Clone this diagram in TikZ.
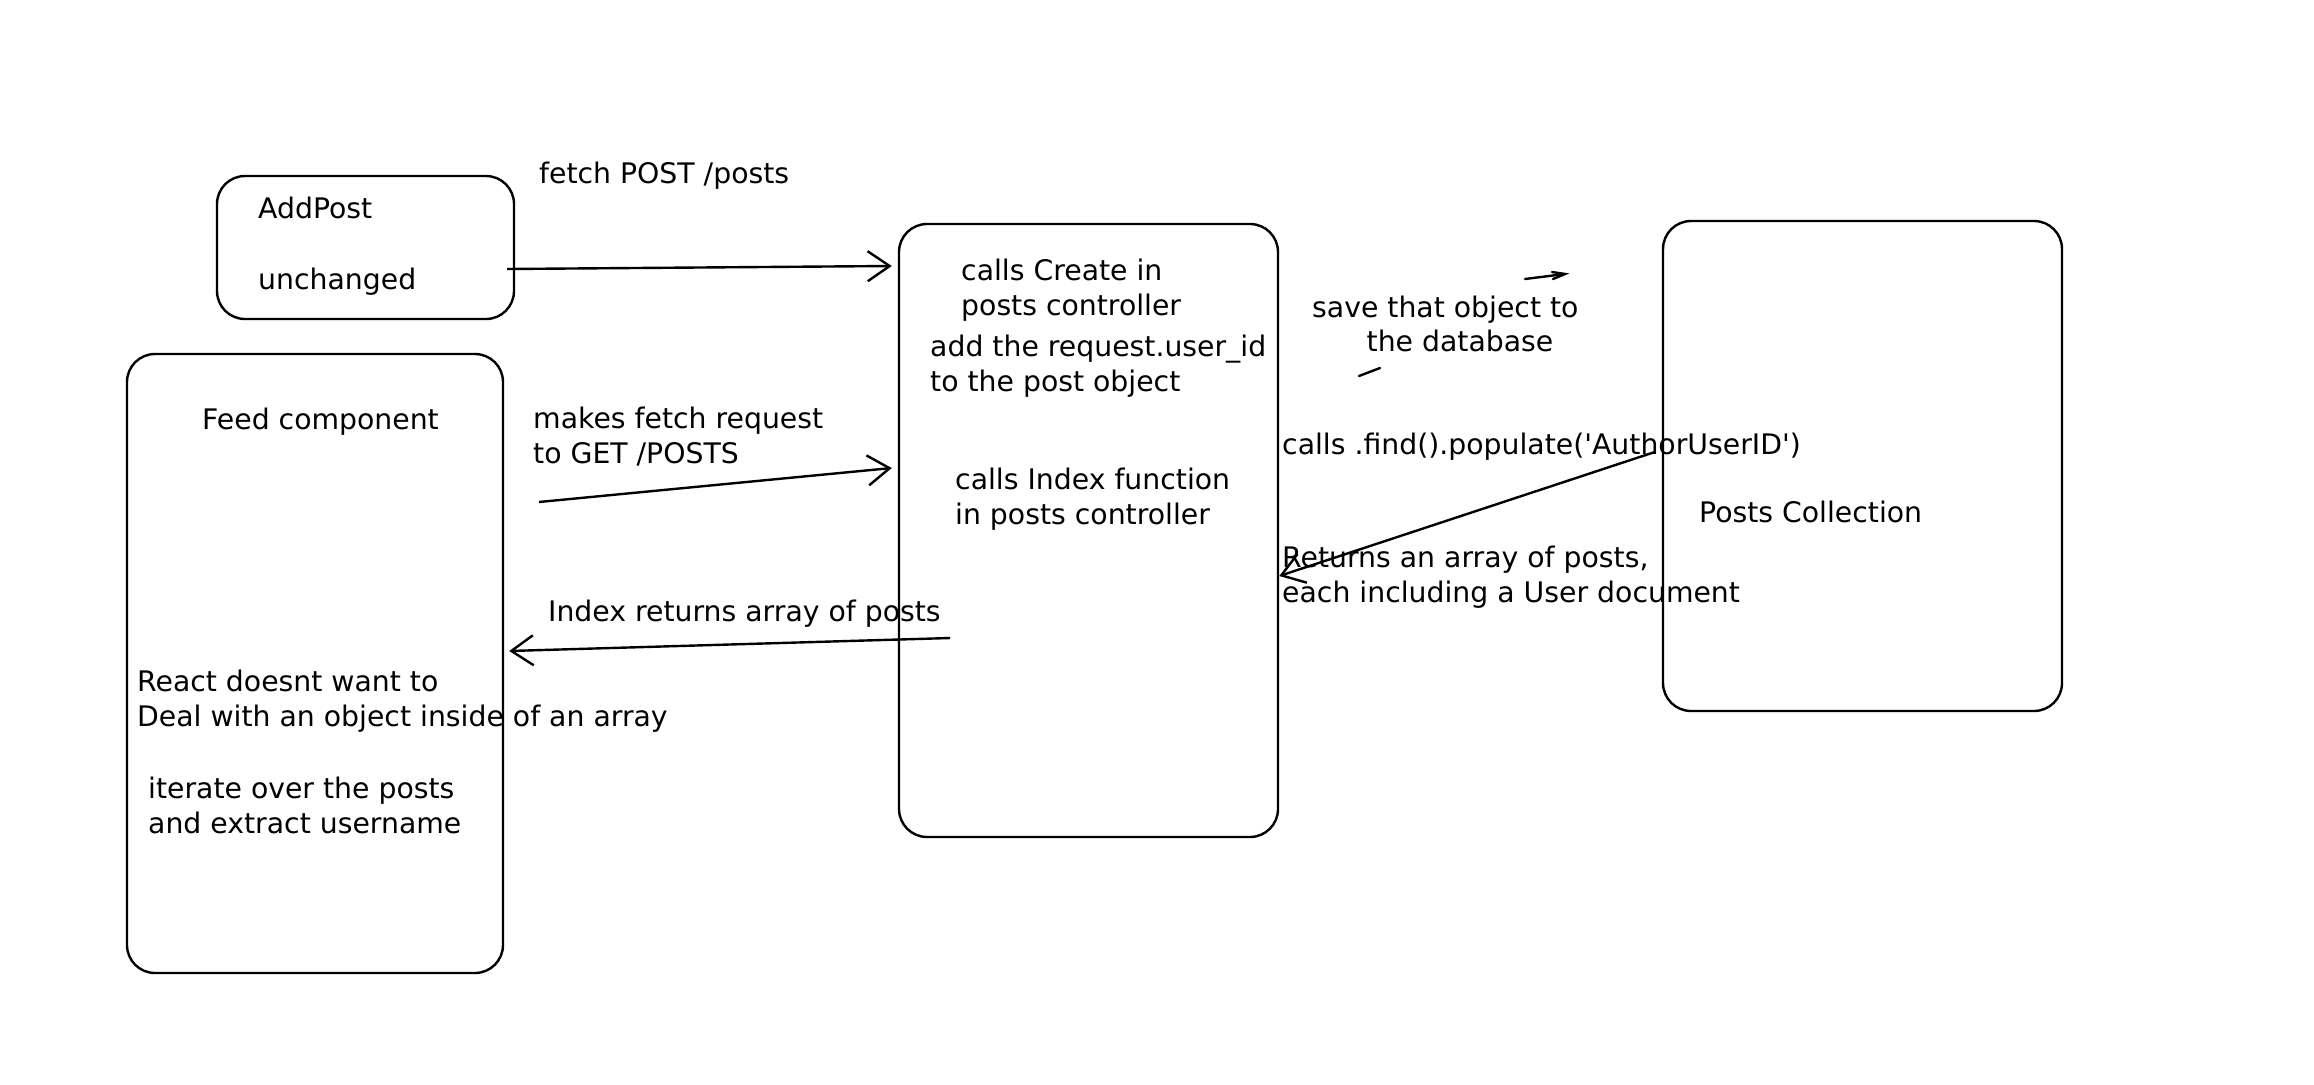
\documentclass[tikz,border=0pt]{standalone}
\usepackage{fontspec}
\setmainfont{DejaVu Sans}
\usetikzlibrary{arrows.meta,calc}
\begin{document}
\begin{tikzpicture}[x=1pt,y=-1pt,
  box/.style={draw=black,line width=2.4pt,rounded corners=28pt,inner sep=0pt},
  lbl/.style={anchor=base west,inner sep=0pt,font=\fontsize{28.3}{35}\selectfont,align=left},
  arr/.style={draw=black,line width=2.4pt,-{Straight Barb[length=22pt,width=30pt,line width=2.4pt]}},
  stroke/.style={draw=black,line width=2.4pt,line cap=round}]
\useasboundingbox[fill=white] (0,0) rectangle (2314,1084);
% boxes
\node[box,minimum width=297pt,minimum height=143pt] (add) at (365.5,247.5) {};
\node[box,minimum width=376pt,minimum height=619pt] (feed) at (315,663.5) {};
\node[box,minimum width=379pt,minimum height=613pt] (mid) at (1088.5,530.5) {};
\node[box,minimum width=399pt,minimum height=490pt] (coll) at (1862.5,466) {};
% texts
\node[lbl] (tadd) at (258,218) {AddPost};
\node[lbl] (tunch) at (258,289) {unchanged};
\node[lbl] (tfetch) at (539,183) {fetch POST /posts};
\node[lbl] (tfeed) at (202,429) {Feed component};
\node[lbl] (tmakes) at (533,463) {makes fetch request\\to GET /POSTS};
\node[lbl] (tcreate) at (961,315) {calls Create in\\posts controller};
\node[lbl] (tuser) at (930,391) {add the request.user\_id\\to the post object};
\node[lbl] (tindex) at (955,524) {calls Index function\\in posts controller};
\node[lbl] (tsave) at (1312,317) {save that object to};
\node[lbl,anchor=base] (tdb) at (1460,351) {the database};
\node[lbl] (tfind) at (1282,454) {calls .find().populate(\textquotesingle AuthorUserID\textquotesingle)};
\node[lbl] (tcoll) at (1699,522) {Posts Collection};
\node[lbl] (tret) at (1282,602) {Returns an array of posts,\\each including a User document};
\node[lbl] (tiret) at (548,621) {Index returns array of posts};
\node[lbl] (treact) at (137,726) {React doesnt want to\\Deal with an object inside of an array};
\node[lbl] (titer) at (148,833) {iterate over the posts\\and extract username};
% connectors
\draw[arr] ([xshift=-8pt]add.east |- 0,269) -- ([xshift=-6pt]mid.west |- 0,266);
\coordinate (mstart) at (539,502);
\draw[arr] (mstart) -- ([xshift=-6pt]mid.west |- 0,468);
\draw[arr] ([xshift=-329pt]mid.east |- 0,638) -- ([xshift=5pt]feed.east |- 0,651);
\draw[arr] ([xshift=-7pt]coll.west |- 0,452) -- (mid.east |- 0,576);
% stray strokes
\draw[stroke] (1525,279) -- (1565,274);
\draw[stroke] (1552,272) -- (1565,274) -- (1553,279);
\draw[stroke] (1359,376) -- (1380,368);
\end{tikzpicture}
\end{document}
